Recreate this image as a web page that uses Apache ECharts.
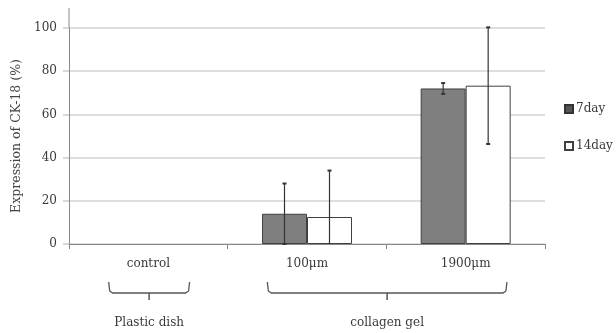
<!DOCTYPE html>
<html><head><meta charset="utf-8">
<script src="https://cdn.jsdelivr.net/npm/echarts@6/dist/echarts.min.js"></script>
<style>html,body{margin:0;padding:0;background:#fff}#c{width:616px;height:333px}</style>
</head><body><div id="c"></div>
<script>
const categories = ['control', '100μm', '1900μm'];
const seriesNames = ['7day', '14day'];
const mean7 = [0, 14, 72];
const sd7 = [0, 14, 2.5];
const mean14 = [0, 12.5, 73.3];
const sd14 = [0, 21.5, 27];
const yTicks = [0, 20, 40, 60, 80, 100];
const groups = [
  { label: 'Plastic dish', from: 0, to: 0 },
  { label: 'collagen gel', from: 1, to: 2 }
];

const FONT = '"DejaVu Serif", "Liberation Serif", serif';
const TXT = '#3a3a3a';
const chart = echarts.init(document.getElementById('c'));
const BAR_W = 45;

function barData(vals) {
  return vals.map(v => v === 0 ? { value: v, itemStyle: { borderWidth: 0 } } : v);
}

function errSeries(means, sds, offset) {
  return {
    type: 'custom',
    z: 10,
    silent: true,
    data: means.map((m, i) => [i, Math.max(0, m - sds[i]), m + sds[i], sds[i], m - sds[i] < 0 ? 1 : 0]),
    renderItem: function (params, api) {
      if (api.value(3) === 0) return null;
      const lo = api.coord([api.value(0), api.value(1)]);
      const hi = api.coord([api.value(0), api.value(2)]);
      const x = lo[0] + offset;
      const st = { stroke: '#333', lineWidth: 1.2 };
      const kids = [
        { type: 'line', shape: { x1: x, y1: lo[1], x2: x, y2: hi[1] }, style: st },
        { type: 'line', shape: { x1: x - 2, y1: hi[1], x2: x + 2, y2: hi[1] }, style: { stroke: '#333', lineWidth: 2 } }
      ];
      if (!api.value(4)) kids.push({ type: 'line', shape: { x1: x - 2, y1: lo[1], x2: x + 2, y2: lo[1] }, style: { stroke: '#333', lineWidth: 2 } });
      return { type: 'group', children: kids };
    }
  };
}

chart.setOption({
  animation: false,
  grid: { left: 69, right: 71, top: 28, bottom: 89 },
  legend: {
    orient: 'vertical',
    left: 559, top: 98,
    itemWidth: 8, itemHeight: 8, itemGap: 25,
    textStyle: { fontFamily: FONT, fontSize: 12, color: TXT, padding: [0, 0, 0, -2] },
    data: [
      { name: '7day', icon: 'rect', itemStyle: { color: '#555', borderColor: '#333' } },
      { name: '14day', icon: 'rect' }
    ]
  },
  xAxis: {
    type: 'category',
    data: categories,
    axisLine: { lineStyle: { color: '#888', width: 1 } },
    axisTick: { show: true, length: 5, lineStyle: { color: '#888' } },
    axisLabel: { fontFamily: FONT, fontSize: 12, color: TXT, margin: 14 }
  },
  yAxis: {
    type: 'value',
    min: 0, max: 100, interval: 20,
    name: 'Expression of CK-18 (%)',
    nameLocation: 'middle',
    nameGap: 44,
    nameTextStyle: { fontFamily: FONT, fontSize: 12.5, color: '#444' },
    axisLine: { show: true, lineStyle: { color: '#888', width: 1 } },
    axisTick: { show: true, length: 6, lineStyle: { color: '#ccc', width: 1.5 } },
    axisLabel: { fontFamily: FONT, fontSize: 12, color: TXT, margin: 12,
      formatter: v => yTicks.includes(v) ? String(v) : '' },
    splitLine: { lineStyle: { color: '#d3d3d3', width: 1.5 } }
  },
  series: [
    { name: '7day', type: 'bar', data: barData(mean7), barWidth: BAR_W, barGap: '0%',
      itemStyle: { color: '#7f7f7f', borderColor: '#404040', borderWidth: 1 } },
    { name: '14day', type: 'bar', data: barData(mean14), barWidth: BAR_W, barGap: '0%',
      itemStyle: { color: '#ffffff', borderColor: '#404040', borderWidth: 1 } },
    errSeries(mean7, sd7, -BAR_W / 2),
    errSeries(mean14, sd14, BAR_W / 2)
  ]
});

// annotations: axis extension and group brackets
const gEls = [];
const top0 = chart.convertToPixel({ xAxisIndex: 0, yAxisIndex: 0 }, [0, 100]);
const bot0 = chart.convertToPixel({ xAxisIndex: 0, yAxisIndex: 0 }, [0, 0]);
const axisX = chart.getModel().getComponent('grid').coordinateSystem.getRect().x;
gEls.push({ type: 'line', shape: { x1: axisX, y1: top0[1] - 20, x2: axisX, y2: top0[1] }, style: { stroke: '#888', lineWidth: 1 } });
const band = chart.convertToPixel({ xAxisIndex: 0 }, 1) - chart.convertToPixel({ xAxisIndex: 0 }, 0);
groups.forEach(g => {
  const xa = chart.convertToPixel({ xAxisIndex: 0 }, g.from);
  const xb = chart.convertToPixel({ xAxisIndex: 0 }, g.to);
  const l = xa - band * 0.25, r = xb + band * 0.26;
  const c = (l + r) / 2;
  const y0 = bot0[1] + 38, y1 = bot0[1] + 49, y2 = bot0[1] + 56;
  gEls.push({ type: 'polyline', shape: { points: [[l, y0], [l + 1, y1 - 2], [l + 4, y1], [r - 4, y1], [r - 1, y1 - 2], [r, y0]] }, style: { stroke: '#555', lineWidth: 1.3, fill: null } });
  gEls.push({ type: 'line', shape: { x1: c, y1: y1, x2: c, y2: y2 }, style: { stroke: '#555', lineWidth: 1.5 } });
  gEls.push({ type: 'text', x: c, y: bot0[1] + 79, style: { text: g.label, font: '12px ' + FONT, fill: TXT, align: 'center', verticalAlign: 'middle' } });
});
chart.setOption({ graphic: gEls });
</script>
</body></html>
